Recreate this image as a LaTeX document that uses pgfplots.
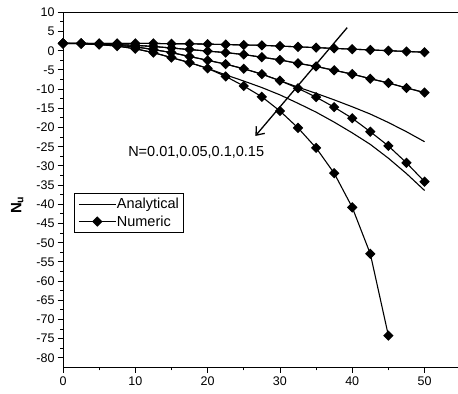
\documentclass[border=0pt]{standalone}
\usepackage{fontspec}
\setmainfont{Liberation Sans}
\usepackage{pgfplots}
\usepackage{pgfplotstable}
\pgfplotsset{compat=1.18}
\usetikzlibrary{arrows.meta}

\pgfplotstableread{
x y
0 1.9
2.5 1.9
5 1.9
7.5 1.9
10 1.9
12.5 1.9
15 1.8
17.5 1.8
20 1.7
22.5 1.6
25 1.5
27.5 1.4
30 1.2
32.5 1.0
35 0.8
37.5 0.6
40 0.4
42.5 0.2
45 0.0
47.5 -0.2
50 -0.4
}\numA

\pgfplotstableread{
x y
0 1.9
2.5 1.9
5 1.8
7.5 1.6
10 1.4
12.5 1.1
15 0.7
17.5 0.3
20 -0.1
22.5 -0.5
25 -1.0
27.5 -1.7
30 -2.4
32.5 -3.3
35 -4.1
37.5 -5.1
40 -6.1
42.5 -7.3
45 -8.4
47.5 -9.7
50 -10.9
}\numB

\pgfplotstableread{
x y
0 1.9
2.5 1.9
5 1.7
7.5 1.4
10 1.0
12.5 0.3
15 -0.5
17.5 -1.5
20 -2.5
22.5 -3.5
25 -4.7
27.5 -6.1
30 -7.8
32.5 -9.8
35 -12.1
37.5 -14.7
40 -17.6
42.5 -21.1
45 -24.8
47.5 -29.2
50 -34.1
}\numC

\pgfplotstableread{
x y
0 1.9
2.5 1.8
5 1.6
7.5 1.2
10 0.5
12.5 -0.5
15 -1.8
17.5 -3.1
20 -4.6
22.5 -6.7
25 -9.2
27.5 -12.0
30 -15.7
32.5 -20.1
35 -25.3
37.5 -31.9
40 -40.8
42.5 -52.9
45 -74.2
}\numD

\pgfplotstableread{
x y
0 1.9
2.5 1.9
5 1.7
7.5 1.4
10 1.0
12.5 0.3
15 -0.5
17.5 -1.5
20 -2.5
22.5 -3.5
25 -4.7
27.5 -6.1
30 -7.8
32.5 -9.5
35 -11.1
37.5 -12.8
40 -14.6
42.5 -16.5
45 -18.7
47.5 -21.1
50 -23.7
}\anaC

\pgfplotstableread{
x y
0 1.9
2.5 1.8
5 1.6
7.5 1.2
10 0.5
12.5 -0.5
15 -1.8
17.5 -3.1
20 -4.6
22.5 -6.3
25 -7.9
27.5 -9.6
30 -11.5
32.5 -13.7
35 -16.0
37.5 -18.6
40 -21.4
42.5 -24.4
45 -28.0
47.5 -32.0
50 -36.4
}\anaD

\begin{document}
\begin{tikzpicture}
\begin{axis}[
  at={(63bp,26.5bp)}, anchor=south west,
  scale only axis, width=397.7bp, height=355.2bp,
  xmin=0, xmax=55, ymin=-82.5, ymax=10,
  xtick={0,10,...,50}, minor x tick num=1,
  ytick={-80,-75,...,10}, minor y tick num=1,
  tick align=outside, xtick pos=left, ytick pos=left,
  major tick length=5.5bp, minor tick length=3bp,
  tick style={black, line width=0.8bp},
  axis line style={line width=1bp},
  ticklabel style={font=\fontsize{12.5bp}{14bp}\selectfont},
  yticklabel style={xshift=0.5bp},
  /pgf/number format/assume math mode=true,
  ylabel={\textbf{N\textsubscript{u}}},
  ylabel style={at={(axis description cs:-0.115,0.4575)}, anchor=center, font=\fontsize{15bp}{17bp}\selectfont},
  legend style={at={(axis cs:1.5,-37.1)}, anchor=north west, draw=black, line width=0.8bp,
    font=\fontsize{14.5bp}{16bp}\selectfont, inner xsep=4bp, inner ysep=3bp,
    row sep=2.5bp,
    nodes={inner xsep=0.5bp, inner ysep=1.5bp},
    /tikz/every even column/.append style={column sep=0pt}},
  legend cell align=left,
  legend image code/.code={\draw[mark repeat=2,mark phase=2,#1] plot coordinates {(0bp,0bp) (18.5bp,0bp) (37bp,0bp)};},
  every axis plot/.append style={black, line width=1.1bp},
]
% analytical
\addplot[no marks] table[x=x,y=y] {\numA};
\addlegendentry{Analytical\hspace{4bp}}
\addplot[mark=square*, mark size=3.1bp, mark options={rotate=45, solid}] table[x=x,y=y] {\numA};
\addlegendentry{Numeric}
\addplot[no marks, forget plot] table[x=x,y=y] {\numB};
\addplot[no marks, forget plot] table[x=x,y=y] {\anaC};
\addplot[no marks, forget plot] table[x=x,y=y] {\anaD};
% numeric
\addplot[mark=square*, mark size=3.1bp, mark options={rotate=45}, forget plot] table[x=x,y=y] {\numB};
\addplot[mark=square*, mark size=3.1bp, mark options={rotate=45}, forget plot] table[x=x,y=y] {\numC};
\addplot[mark=square*, mark size=3.1bp, mark options={rotate=45}, forget plot] table[x=x,y=y] {\numD};
% annotation
\draw[line width=1.3bp, -{Straight Barb[length=7bp,width=11bp,line width=1.3bp]}] (axis cs:39.3,6.0) -- (axis cs:26.6,-22.2);
\node[anchor=west, inner sep=0pt, font=\fontsize{14.5bp}{16bp}\selectfont] at (axis cs:9.0,-26.4) {N=0.01,0.05,0.1,0.15};
\end{axis}
\pgfresetboundingbox
\useasboundingbox (0,0) rectangle (458bp,394bp);
\end{tikzpicture}
\end{document}
